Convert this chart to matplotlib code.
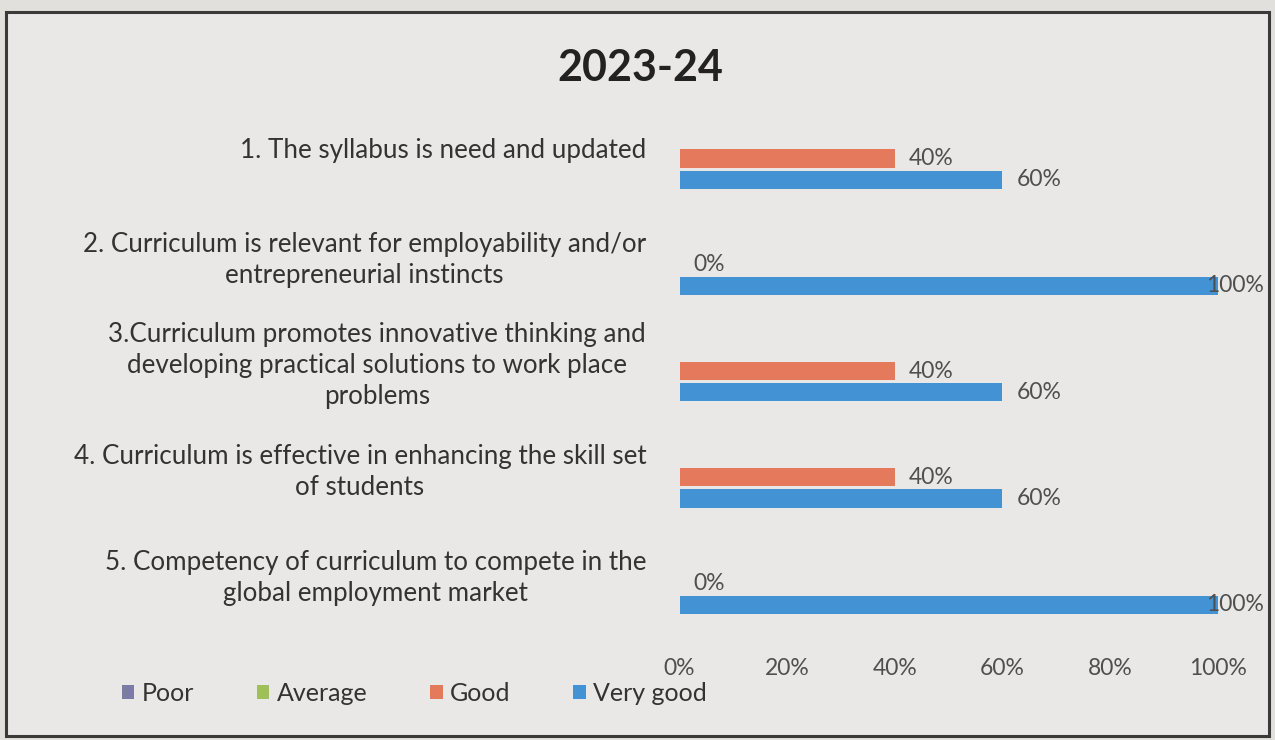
import numpy as np
import matplotlib.pyplot as plt
from matplotlib.patches import Rectangle

plt.rcParams['font.family'] = ['Lato', 'DejaVu Sans']

questions = [
    "1. The syllabus is need and updated",
    "2. Curriculum is relevant for employability and/or\nentrepreneurial instincts",
    "3.Curriculum promotes innovative thinking and\ndeveloping practical solutions to work place\nproblems",
    "4. Curriculum is effective in enhancing the skill set\nof students",
    "5. Competency of curriculum to compete in the\nglobal employment market",
]
series_names = ["Poor", "Average", "Good", "Very good"]
poor = [0, 0, 0, 0, 0]
average = [0, 0, 0, 0, 0]
good = [40, 0, 40, 40, 0]
very_good = [60, 100, 60, 60, 100]
xticks = [0, 20, 40, 60, 80, 100]

colors = ["#7b7ca6", "#9fbf5a", "#e47a5b", "#4392d4"]
text_col = "#4f4f4f"

fig = plt.figure(figsize=(12.75, 7.4), dpi=100)
fig.patch.set_facecolor("#e2e0dd")
fig.patches.append(Rectangle((0.005, 0.006), 0.99, 0.978, transform=fig.transFigure,
                             facecolor="#eae8e6", edgecolor="#3c3a38", linewidth=2.2, zorder=-5))

ax = fig.add_axes([0.533, 0.154, 0.422, 0.718])
ax.set_facecolor("none")

y = np.arange(len(questions))
offsets = [-0.3, -0.1, 0.1, 0.3]
h = 0.17
all_vals = [poor, average, good, very_good]
for vals, off, col, name in zip(all_vals, offsets, colors, series_names):
    bars = ax.barh(y + off, vals, height=h, color=col, label=name)
    if name in ("Good", "Very good"):
        for b, v in zip(bars, vals):
            dx = -12 if v == 100 else 14
            ax.annotate(f"{v}%", (v, b.get_y() + b.get_height() / 2),
                        xytext=(dx, 0), textcoords="offset pixels",
                        ha="left", va="center", fontsize=16.5, color=text_col)

ax.set_xlim(0, 100)
ax.set_ylim(4.5, -0.5)
ax.set_yticks(y)
ax.set_yticklabels(questions, fontsize=18.7, color="#333333", multialignment="center",
                   linespacing=1.3)
ax.set_xticks(xticks)
ax.set_xticklabels([f"{t}%" for t in xticks], fontsize=16.5, color=text_col)
ax.tick_params(axis="y", length=0, pad=24)
ax.tick_params(axis="x", length=0, pad=23)
for s in ax.spines.values():
    s.set_visible(False)

fig.text(0.502, 0.908, "2023-24", ha="center", va="center", fontsize=31,
         fontweight="bold", color="#222222")

fig.legend(loc="center left", bbox_to_anchor=(0.078, 0.063), ncol=4, frameon=False,
           fontsize=18, handlelength=0.5, handleheight=0.5, handletextpad=0.3,
           columnspacing=2.5, labelcolor="#333333")

fig.savefig("out.png", dpi=100, facecolor=fig.get_facecolor())
